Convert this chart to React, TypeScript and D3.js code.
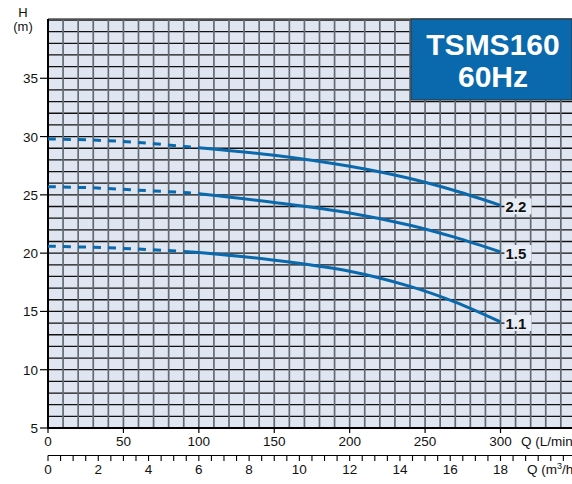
import React from "react";
import * as d3 from "d3";

const flowLmin = [0, 30, 60, 90, 100, 150, 200, 240, 270, 300];
const head22 = [29.8, 29.7, 29.5, 29.15, 29.05, 28.4, 27.45, 26.4, 25.35, 24.1];
const head15 = [25.7, 25.6, 25.4, 25.2, 25.1, 24.35, 23.45, 22.4, 21.35, 20.1];
const head11 = [20.6, 20.5, 20.35, 20.15, 20.05, 19.4, 18.45, 17.15, 15.8, 14.1];
const seriesLabels = ["2.2", "1.5", "1.1"];
const dashEnds = [100, 100, 90];
const yTicks = [5, 10, 15, 20, 25, 30, 35];
const xTicksLmin = [0, 50, 100, 150, 200, 250, 300];
const xTicksM3h = [0, 2, 4, 6, 8, 10, 12, 14, 16, 18];
const titleLines = ["TSMS160", "60Hz"];

const W = 572;
const H = 484;
const left = 48;
const top = 19;
const bottom = 428;
const font = "'Liberation Sans', Arial, Helvetica, sans-serif";
const blue = "#0a69ac";

export default function App() {
  const x = d3.scaleLinear().domain([0, 300]).range([left, 500.5]);
  const y = d3.scaleLinear().domain([5, 40]).range([bottom, 20]);
  const xm = d3.scaleLinear().domain([0, 18]).range([left, 500.5]);

  const vGrid = d3.range(10, 360, 10);
  const hGrid = d3.range(6, 41, 1);
  const heads = [head22, head15, head11];

  const line = d3
    .line<[number, number]>()
    .x((d) => x(d[0]))
    .y((d) => y(d[1]))
    .curve(d3.curveCatmullRom.alpha(0.5));

  const smallTicks = d3.range(0, 21.1, 0.5);

  return (
    <svg
      width={W}
      height={H}
      style={{ position: "absolute", left: 0, top: 0, background: "#fff" }}
      fontFamily={font}
    >
      <rect x={left} y={top} width={W - left} height={bottom - top} fill="#dfe6f1" />
      {hGrid.map((h) => (
        <line key={"h" + h} x1={left} x2={W} y1={y(h)} y2={y(h)} stroke="#111" strokeWidth={1.3} />
      ))}
      {vGrid.map((q) => (
        <line key={"v" + q} x1={x(q)} x2={x(q)} y1={top} y2={bottom} stroke="#646a72" strokeWidth={1.7} />
      ))}
      <line x1={left} x2={W} y1={top} y2={top} stroke="#555" strokeWidth={1.5} />
      <line x1={left} x2={left} y1={top} y2={bottom + 1} stroke="#000" strokeWidth={2} />
      <line x1={left - 1} x2={W} y1={bottom} y2={bottom} stroke="#000" strokeWidth={2} />

      {yTicks.map((t) => (
        <g key={"yt" + t}>
          <line x1={left - 8} x2={left} y1={y(t)} y2={y(t)} stroke="#000" strokeWidth={1.2} />
          <text x={left - 10} y={y(t) + 5} fontSize={13.5} textAnchor="end" fill="#111">
            {t}
          </text>
        </g>
      ))}
      <text x={23} y={17} fontSize={13} textAnchor="middle" fill="#111">H</text>
      <text x={23} y={31} fontSize={13} textAnchor="middle" fill="#111">(m)</text>

      {xTicksLmin.map((t) => (
        <g key={"xt" + t}>
          <line x1={x(t)} x2={x(t)} y1={bottom} y2={bottom + 5} stroke="#000" strokeWidth={1.2} />
          <text x={x(t)} y={446} fontSize={13.5} textAnchor="middle" fill="#111">
            {t}
          </text>
        </g>
      ))}
      <text x={521} y={446} fontSize={13.5} fill="#111">Q (L/min)</text>

      <line x1={left} x2={W} y1={455.5} y2={455.5} stroke="#000" strokeWidth={1.2} />
      {smallTicks.map((t) => (
        <line key={"st" + t} x1={xm(t)} x2={xm(t)} y1={455.5} y2={461} stroke="#000" strokeWidth={1.1} />
      ))}
      {xTicksM3h.map((t) => (
        <text key={"mt" + t} x={xm(t)} y={474} fontSize={13.5} textAnchor="middle" fill="#111">
          {t}
        </text>
      ))}
      <text x={527} y={474} fontSize={13.5} fill="#111">
        Q (m<tspan fontSize={9} dy={-5}>3</tspan>
        <tspan dy={5}>/h)</tspan>
      </text>

      {heads.map((hs, i) => {
        const pts: [number, number][] = flowLmin.map((q, j) => [q, hs[j]]);
        const dashed = pts.filter((p) => p[0] <= dashEnds[i]);
        const solid = pts.filter((p) => p[0] >= dashEnds[i]);
        const last = pts[pts.length - 1];
        return (
          <g key={"c" + i}>
            <path d={line(dashed) || ""} fill="none" stroke={blue} strokeWidth={3} strokeDasharray="8 7" />
            <path d={line(solid) || ""} fill="none" stroke={blue} strokeWidth={3} />
            <rect x={x(last[0]) + 4} y={y(last[1]) - 7} width={27} height={16} fill="#e8edf5" />
            <text
              x={x(last[0]) + 5}
              y={y(last[1]) + 7}
              fontSize={15}
              fontWeight="bold"
              fill="#111"
            >
              {seriesLabels[i]}
            </text>
          </g>
        );
      })}

      <rect x={411} y={top} width={W - 411} height={100 - top} fill={blue} stroke="#333" strokeWidth={1} />
      <text x={493} y={55} fontSize={30} fontWeight="bold" textAnchor="middle" fill="#fff">
        {titleLines[0]}
      </text>
      <text x={493} y={87} fontSize={30} fontWeight="bold" textAnchor="middle" fill="#fff">
        {titleLines[1]}
      </text>
    </svg>
  );
}
